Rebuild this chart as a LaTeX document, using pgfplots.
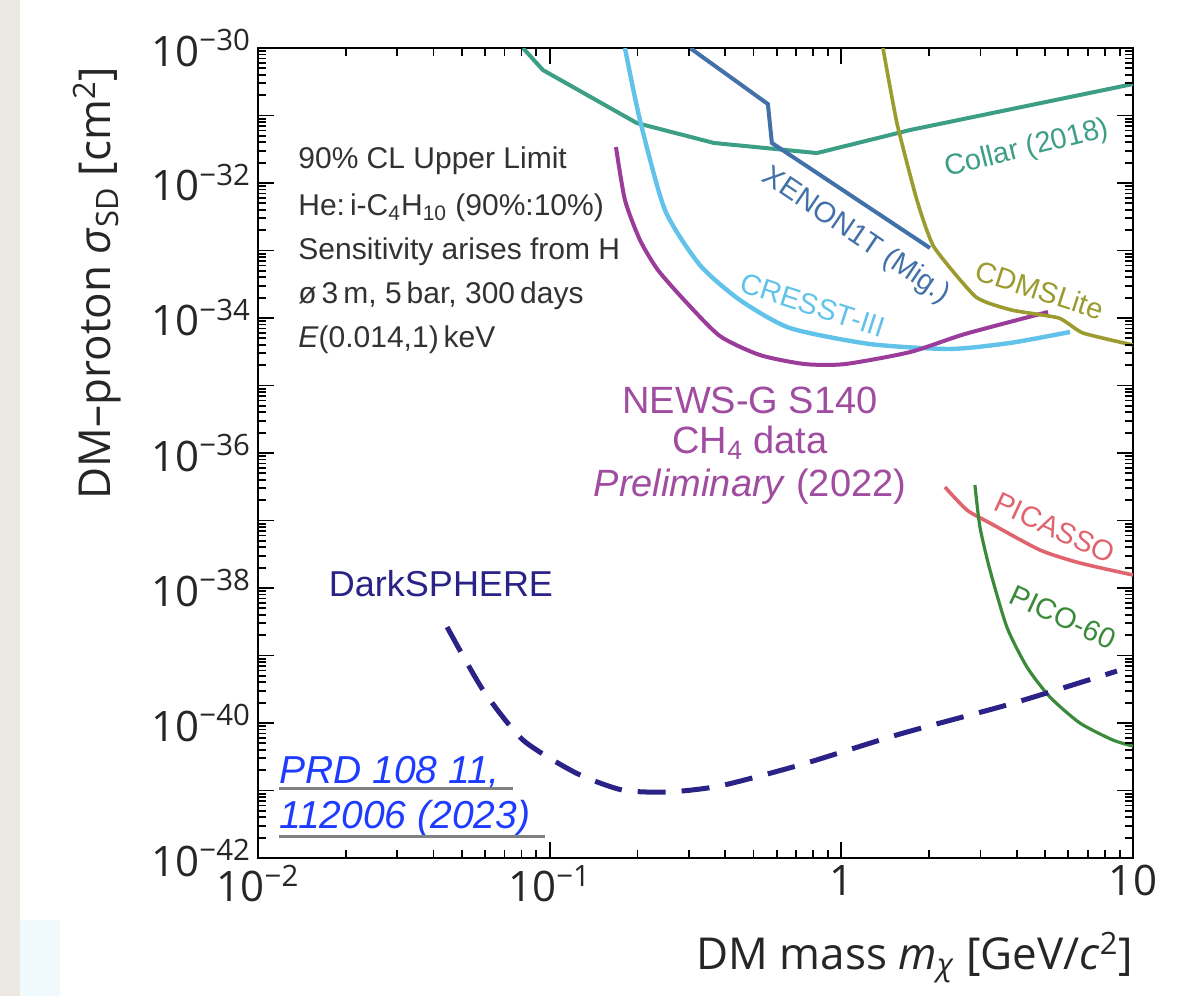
\documentclass[border=0pt]{standalone}
\usepackage{fontspec}
\setmainfont{Open Sans}
\newfontfamily\rob{Liberation Sans}
\usepackage{pgfplots}
\pgfplotsset{compat=1.18}
\definecolor{collar}{RGB}{61,158,134}
\definecolor{xenon}{RGB}{66,112,168}
\definecolor{cresst}{RGB}{98,195,234}
\definecolor{newsg}{RGB}{155,60,155}
\definecolor{newsgtxt}{RGB}{160,76,160}
\definecolor{cdms}{RGB}{155,155,48}
\definecolor{picasso}{RGB}{224,100,110}
\definecolor{pico}{RGB}{58,138,58}
\definecolor{dark}{RGB}{43,34,136}
\definecolor{prd}{RGB}{30,60,255}
\definecolor{annot}{RGB}{50,50,50}
\definecolor{marble}{RGB}{236,233,227}
\definecolor{cyanpatch}{RGB}{240,250,252}
\def\yminor{2e-42}%
\foreach \e in {-42,...,-31}{\foreach \m in {2,...,9}{\xdef\yminor{\yminor,\m e\e}}}%
\def\xminor{0.02,0.03,0.04,0.05,0.06,0.07,0.08,0.09,0.2,0.3,0.4,0.5,0.6,0.7,0.8,0.9,2,3,4,5,6,7,8,9}%
\begin{document}
\begin{tikzpicture}
\fill[white] (0,0) rectangle (602pt,498pt);
\fill[marble] (0,0) rectangle (10pt,498pt);
\fill[cyanpatch] (10pt,0) rectangle (30pt,38pt);
\begin{axis}[
  at={(129pt,69pt)}, anchor=south west,
  scale only axis, width=437.5pt, height=405pt,
  xmode=log, ymode=log,
  xmin=0.01, xmax=10, ymin=1e-42, ymax=1e-30,
  tick align=inside,
  every tick/.style={black, line width=0.9pt},
  xtick={0.01,0.1,1,10},
  xticklabels={10\textsuperscript{−2},10\textsuperscript{−1},1,10},
  ytick={1e-42,1e-41,1e-40,1e-39,1e-38,1e-37,1e-36,1e-35,1e-34,1e-33,1e-32,1e-31,1e-30},
  yticklabels={10\textsuperscript{−42},,10\textsuperscript{−40},,10\textsuperscript{−38},,10\textsuperscript{−36},,10\textsuperscript{−34},,10\textsuperscript{−32},,10\textsuperscript{−30}},
  major tick length=8pt,
  axis line style={line width=1.3pt},
  tick label style={font=\fontsize{21}{21}\selectfont, text=black!85},
  label style={font=\fontsize{22}{22}\selectfont, text=black!85},
  xlabel={DM mass \textit{m}\textsubscript{\textit{χ}} [GeV/\textit{c}\textsuperscript{2}]},
  ylabel={DM–proton \textit{σ}\textsubscript{SD} [cm\textsuperscript{2}]},
  xlabel style={at={(rel axis cs:1.008,-0.123)}, anchor=east},
  ylabel style={at={(rel axis cs:-0.184,0.71)}, anchor=center},
  clip=true,
]
% Collar (2018)
\addplot[collar, line width=2pt] coordinates {
 (0.081,1e-30) (0.0948,4.72e-31) (0.199,7.74e-32) (0.366,3.92e-32)
 (0.825,2.78e-32) (1.72,6.1e-32) (10,2.93e-31)};
% XENON1T (Mig.)
\addplot[xenon, line width=2pt] coordinates {
 (0.303,1e-30) (0.560,1.48e-31) (0.578,3.92e-32) (2.013,1.09e-33)};
% CRESST-III
\addplot[cresst, line width=2.2pt, smooth, tension=0.4] coordinates {
 (0.1812,1e-30) (0.204,8.58e-32) (0.2485,3.98e-33) (0.3275,6.09e-34)
 (0.449,1.85e-34) (0.6665,7.11e-35) (1.253,4.12e-35) (2.357,3.48e-35)
 (3.785,4.27e-35) (6.08,6.21e-35)};
% NEWS-G S140
\addplot[newsg, line width=2pt, smooth, tension=0.4] coordinates {
 (0.1688,3.41e-32) (0.1812,5.6e-33) (0.204,1.43e-33) (0.2351,5.14e-34)
 (0.2933,1.73e-34) (0.3836,5.41e-35) (0.526,2.83e-35) (0.750,2.08e-35)
 (1.029,2.08e-35) (1.72,3.13e-35) (2.654,5.8e-35) (5.11,1.23e-34)};
% CDMSLite
\addplot[cdms, line width=1.8pt, smooth, tension=0.3] coordinates {
 (1.389,1e-30) (1.551,7.74e-32) (1.816,5.6e-33) (2.077,1.13e-33)
 (2.893,2.05e-34) (3.846,1.31e-34) (5.572,1e-34) (6.734,6.0e-35) (10,3.98e-35)};
% PICASSO
\addplot[picasso, line width=1.8pt, smooth, tension=0.4] coordinates {
 (2.266,3.13e-37) (2.696,1.43e-37) (3.233,9.18e-38) (4.797,3.66e-38)
 (6.577,2.35e-38) (10,1.56e-38)};
% PICO-60
\addplot[pico, line width=1.6pt, smooth, tension=0.4] coordinates {
 (2.871,3.36e-37) (2.987,8.01e-38) (3.233,1.85e-38) (3.695,2.64e-39)
 (4.328,6.76e-40) (5.19,2.43e-40) (6.577,1e-40) (8.53,5.6e-41) (10,4.56e-41)};
% DarkSPHERE
\addplot[dark, line width=2.5pt, smooth, tension=0.4, dash pattern=on 14pt off 8pt] coordinates {
 (0.0445,2.64e-39) (0.0591,3.08e-40) (0.081,5.6e-41) (0.1231,1.82e-41)
 (0.177,1.02e-41) (0.2544,9.5e-42) (0.3836,1.17e-41) (0.7211,2.39e-41)
 (1.588,6.87e-41) (3.498,1.73e-40) (5.19,2.88e-40) (8.81,5.89e-40)};
% minor ticks of the axes
\expandafter\pgfplotsinvokeforeach\expandafter{\xminor}{
  \draw[black, line width=0.9pt] (axis cs:#1,1e-42) -- ([yshift=4pt]axis cs:#1,1e-42);
  \draw[black, line width=0.9pt] (axis cs:#1,1e-30) -- ([yshift=-4pt]axis cs:#1,1e-30);
}
\expandafter\pgfplotsinvokeforeach\expandafter{\yminor}{
  \draw[black, line width=0.9pt] (axis cs:0.01,#1) -- ([xshift=4pt]axis cs:0.01,#1);
  \draw[black, line width=0.9pt] (axis cs:10,#1) -- ([xshift=-4pt]axis cs:10,#1);
}
\end{axis}
\begin{scope}[x=0.5pt, y=-0.5pt, shift={(0,498pt)}]
 \rob
 % annotation block
 \begin{scope}[every node/.style={anchor=west, text=annot, font=\rob\fontsize{15}{15}\selectfont, inner sep=0pt}]
  \node at (298,161) {90\% CL Upper Limit};
  \node at (298,208) {He:\,i-C\textsubscript{4}H\textsubscript{10} (90\%:10\%)};
  \node at (298,252) {Sensitivity arises from H};
  \node at (298,296) {ø\,3\,m, 5\,bar, 300\,days};
  \node at (298,340) {\textit{E}(0.014,1)\,keV};
 \end{scope}
 % curve labels
 \begin{scope}[every node/.style={font=\rob\fontsize{14.5}{14.5}\selectfont, inner sep=0pt}]
  \node[text=collar, rotate=14] at (1027,149) {Collar (2018)};
  \node[text=xenon, rotate=-34] at (856,236) {XENON1T (Mig.)};
  \node[text=cresst, rotate=-18] at (813,305) {CRESST-III};
  \node[text=cdms, rotate=-18] at (1040,290) {CDMSLite};
  \node[text=picasso, rotate=-25] at (1055,528) {PICASSO};
  \node[text=pico, rotate=-25] at (1063,617) {PICO-60};
 \end{scope}
 \begin{scope}[every node/.style={font=\rob\fontsize{19}{19}\selectfont, inner sep=0pt, text=newsgtxt}]
  \node at (750,400) {NEWS-G S140};
  \node at (750,443) {CH\textsubscript{4} data};
  \node at (750,487) {\textit{Preliminary} (2022)};
 \end{scope}
 \node[font=\rob\fontsize{18}{18}\selectfont, inner sep=0pt, text=dark] at (441,584) {DarkSPHERE};
 \begin{scope}[every node/.style={anchor=west, font=\rob\itshape\fontsize{19.5}{19.5}\selectfont, inner sep=0pt, text=prd}]
  \node at (279,772) {PRD 108 11,};
  \node at (279,818) {112006 (2023)};
 \end{scope}
 \draw[gray, line width=1.5pt] (279,789) -- (513,789);
 \draw[gray, line width=1.5pt] (279,836) -- (545,836);
\end{scope}
\end{tikzpicture}
\end{document}
